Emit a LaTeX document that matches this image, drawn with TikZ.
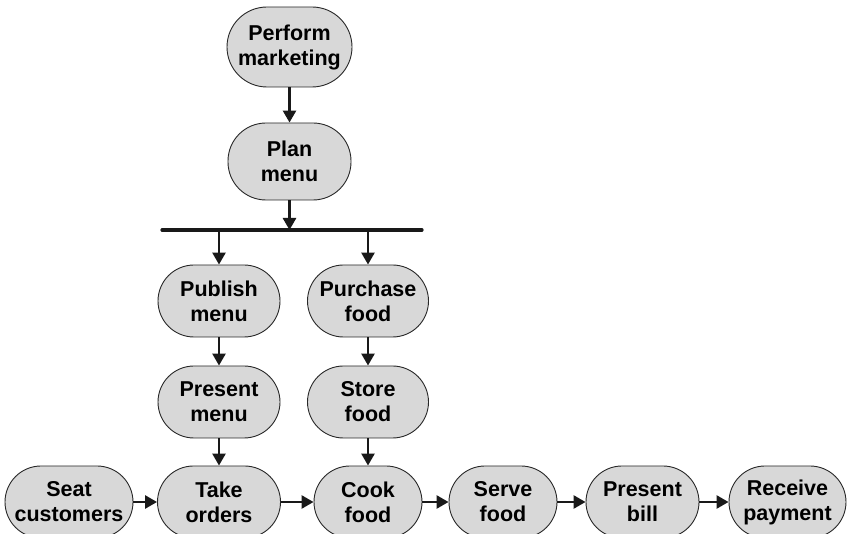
\documentclass[tikz,border=0pt]{standalone}
\usepackage{fontspec}
\setmainfont{Liberation Sans}
\usetikzlibrary{arrows.meta}
\definecolor{boxfill}{RGB}{216,216,216}
\definecolor{boxline}{RGB}{40,40,40}
\tikzset{
  task/.style={draw=boxline, line width=0.9pt, fill=boxfill, rounded corners=36pt,
    minimum height=72pt, inner sep=0pt, align=center,
    font=\fontsize{21.5}{25}\selectfont\bfseries},
  flow/.style={draw=black!90, line width=2.6pt, -{Triangle[length=12pt,width=13pt]}},
  forkbar/.style={draw=black!90, line width=3.2pt, line cap=round}
}
\begin{document}
\begin{tikzpicture}[x=1pt, y=-1pt]
  \useasboundingbox (0,0) rectangle (847,534);
  \clip (0,0) rectangle (847,534);

  % planning chain
  \node[task, minimum width=125pt, minimum height=80pt, rounded corners=40pt] (market) at (289.5,47) {Perform\\marketing};
  \node[task, minimum width=123pt, minimum height=77pt, rounded corners=38pt] (plan) at (289.5,161.5) {Plan\\menu};

  % fork bar
  \coordinate (barL) at (162,230);
  \coordinate (barR) at (422,230);
  \coordinate (barIn) at (289.5,230);
  \coordinate (forkL) at (219,230);
  \coordinate (forkR) at (368,230);

  % two parallel branches
  \node[task, minimum width=122pt] (publish) at (219,301) {Publish\\menu};
  \node[task, minimum width=121pt] (purchase) at (368,301) {Purchase\\food};
  \node[task, minimum width=122pt] (presentmenu) at (219,402) {Present\\menu};
  \node[task, minimum width=121pt] (store) at (368,402) {Store\\food};

  % service row
  \node[task, minimum width=128pt] (seat) at (69,502) {Seat\\customers};
  \node[task, minimum width=123pt] (take) at (219,502) {Take\\orders};
  \node[task, minimum width=108pt] (cook) at (368,502) {Cook\\food};
  \node[task, minimum width=108pt] (serve) at (503,502) {Serve\\food};
  \node[task, minimum width=113pt] (bill) at (642.5,502) {Present\\bill};
  \node[task, minimum width=117pt] (receive) at (787.5,502) {Receive\\payment};

  % connectors
  \draw[flow] (market) -- (plan);
  \draw[flow] (plan) -- (barIn);
  \draw[forkbar] (barL) -- (barR);
  \draw[flow] (forkL) -- (publish);
  \draw[flow] (forkR) -- (purchase);
  \draw[flow] (publish) -- (presentmenu);
  \draw[flow] (purchase) -- (store);
  \draw[flow] (presentmenu) -- (take);
  \draw[flow] (store) -- (cook);
  \draw[flow] (seat) -- (take);
  \draw[flow] (take) -- (cook);
  \draw[flow] (cook) -- (serve);
  \draw[flow] (serve) -- (bill);
  \draw[flow] (bill) -- (receive);
\end{tikzpicture}
\end{document}
